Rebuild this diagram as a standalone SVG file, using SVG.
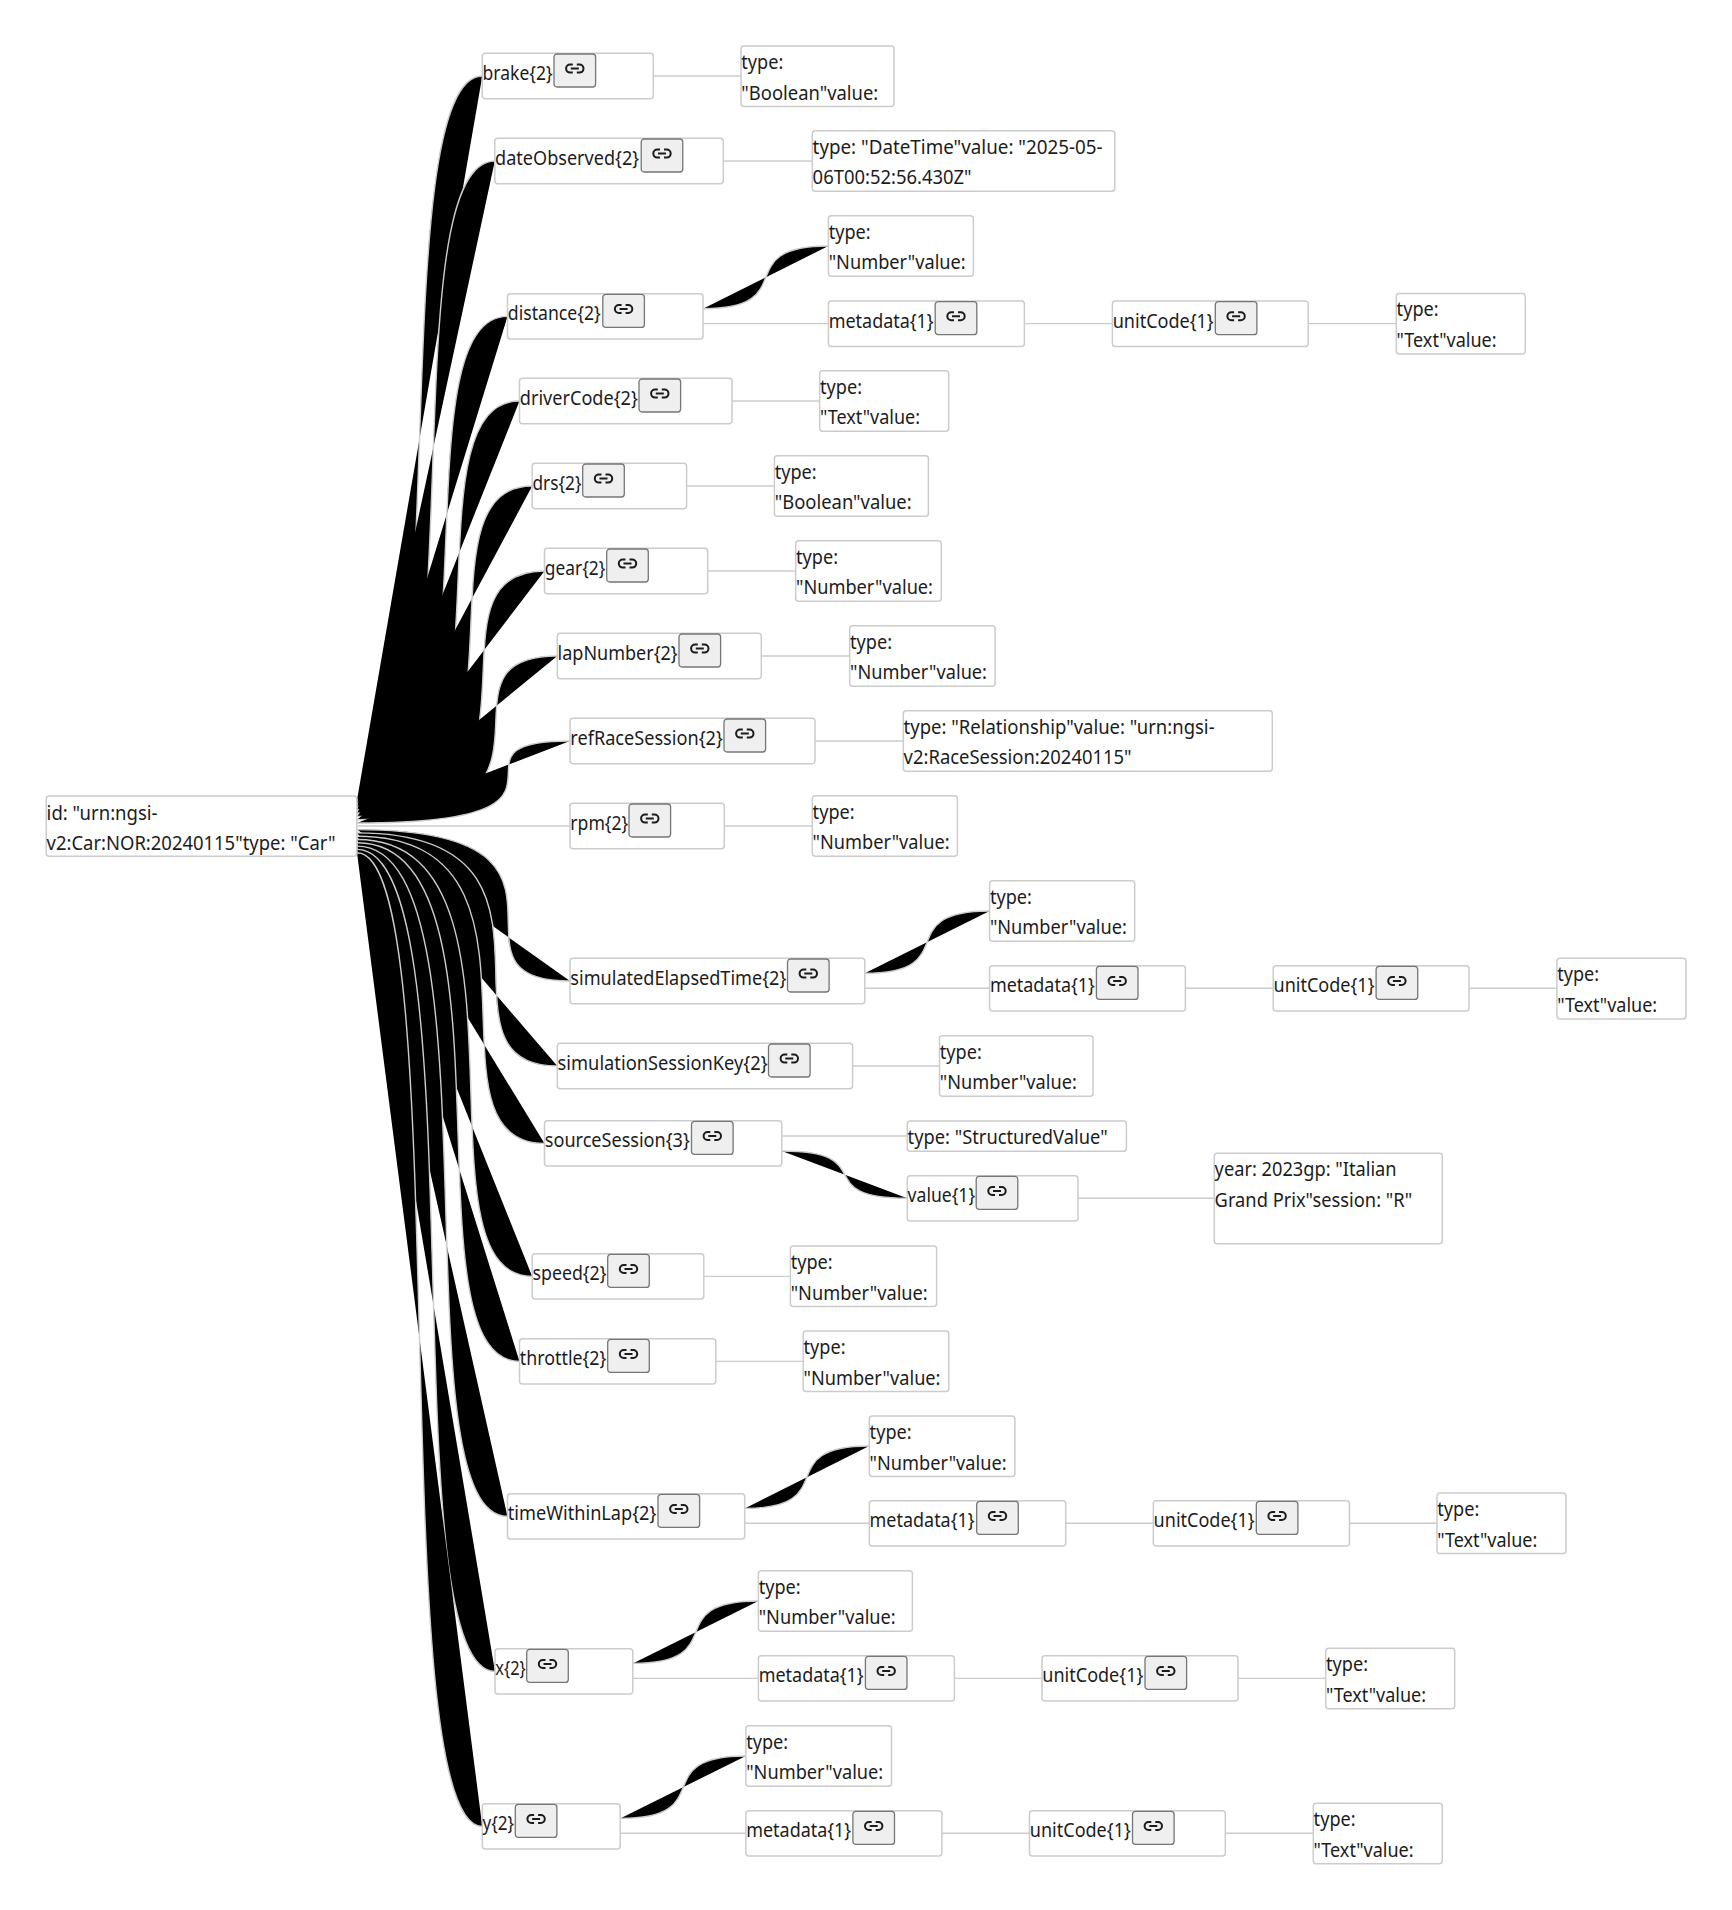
<svg xmlns="http://www.w3.org/2000/svg" xmlns:xlink="http://www.w3.org/1999/xlink" width="1732" height="1910" viewBox="0 0 1732 1910">
<style>
text{font-family:"Noto Sans","Open Sans","Liberation Sans",sans-serif;font-size:19.5px;fill:#1c1c1c}
.box{fill:#fff;stroke:#ccc;stroke-width:1.5}
.btn{fill:#efefef;stroke:#767676;stroke-width:1.3}
.ico{fill:none;stroke:#1c1c1c;stroke-width:2}
#edges path{stroke:#ccc;stroke-width:1.4;fill:#000}
</style>
<defs>
<g id="b"><rect class="btn" x="0" y="0.7" width="41.6" height="33" rx="3"/><path class="ico" d="M18.8,11.3h-2.7a4,4 0 0 0 0,8h2.7M22.8,11.3h2.7a4,4 0 0 1 0,8h-2.7M16.8,15.3h8"/></g>
</defs>
<rect width="1732" height="1910" fill="#fff"/>
<g id="edges">
<path d="M357,799.9C457,799.9 382,76 482.3,76"/>
<path d="M653.3,76L741,76"/>
<path d="M357,803.2C480,803.2 388.4,161 494.8,161"/>
<path d="M723.3,161L812.3,161"/>
<path d="M357,806.5C503.3,806.5 394.9,316.4 507.5,316.4"/>
<path d="M703,308.7C803.4,308.7 728.4,246 828.4,246"/>
<path d="M703,323.6L828.4,323.6"/>
<path d="M1024.4,323.6L1112.4,323.6"/>
<path d="M1308.2,323.6L1396.3,323.6"/>
<path d="M357,809.8C525.3,809.8 401.1,401 519.5,401"/>
<path d="M732,401L819.7,401"/>
<path d="M357,813.1C548.6,813.1 407.6,486 532.2,486"/>
<path d="M686.6,486L774.4,486"/>
<path d="M357,816.4C571.2,816.4 413.9,571 544.5,571"/>
<path d="M707.7,571L795.7,571"/>
<path d="M357,819.7C594.7,819.7 420.5,656 557.3,656"/>
<path d="M761.3,656L849.7,656"/>
<path d="M357,823C618,823 427,741 570,741"/>
<path d="M815,741L903.3,741"/>
<path d="M357,826L570,826"/>
<path d="M724.3,826L812.3,826"/>
<path d="M357,829.6C618,829.6 427,981 570,981"/>
<path d="M864.8,973.3C964.6,973.3 889.6,911 989.6,911"/>
<path d="M864.8,988.3L989.6,988.3"/>
<path d="M1185.4,988.3L1273.2,988.3"/>
<path d="M1469,988.3L1556.9,988.3"/>
<path d="M357,832.9C594.7,832.9 420.5,1066 557.3,1066"/>
<path d="M852.6,1066L939.5,1066"/>
<path d="M357,836.2C571.2,836.2 413.9,1143.4 544.5,1143.4"/>
<path d="M781.8,1136L907.3,1136"/>
<path d="M781.8,1151C882.3,1151 807.3,1198.3 907.3,1198.3"/>
<path d="M1078,1198.3L1214.3,1198.3"/>
<path d="M357,839.5C548.6,839.5 407.6,1276.4 532.2,1276.4"/>
<path d="M703.8,1276.4L790.4,1276.4"/>
<path d="M357,842.8C525.3,842.8 401.1,1361.4 519.5,1361.4"/>
<path d="M715.8,1361.4L803.2,1361.4"/>
<path d="M357,846.1C503.3,846.1 394.9,1516.4 507.5,1516.4"/>
<path d="M744.7,1508.4C844.3,1508.4 769.3,1446 869.3,1446"/>
<path d="M744.7,1523.3L869.3,1523.3"/>
<path d="M1065.7,1523.3L1153.3,1523.3"/>
<path d="M1349.5,1523.3L1437,1523.3"/>
<path d="M357,849.4C480.3,849.4 388.5,1671.4 495,1671.4"/>
<path d="M632.8,1663.4C733.4,1663.4 658.4,1601 758.4,1601"/>
<path d="M632.8,1678.4L758.4,1678.4"/>
<path d="M954.4,1678.4L1042,1678.4"/>
<path d="M1238,1678.4L1325.7,1678.4"/>
<path d="M357,852.7C457,852.7 382,1826.4 482.3,1826.4"/>
<path d="M620.2,1818.4C720.9,1818.4 645.9,1756 745.9,1756"/>
<path d="M620.2,1833.3L745.9,1833.3"/>
<path d="M941.9,1833.3L1029.5,1833.3"/>
<path d="M1225.3,1833.3L1313.3,1833.3"/>
</g>

<g id="root" transform="translate(46.3,796)"><rect class="box" width="310.5" height="60.3" rx="3"/><text x="0.3" y="23.5" textLength="111" lengthAdjust="spacingAndGlyphs">id: "urn:ngsi-</text><text x="0.3" y="53.5" textLength="289" lengthAdjust="spacingAndGlyphs">v2:Car:NOR:20240115"type: "Car"</text></g>

<g id="brake" transform="translate(482.3,53.3)"><rect class="box" width="171" height="45.4" rx="3"/><text x="0.3" y="26.7" textLength="70" lengthAdjust="spacingAndGlyphs">brake{2}</text><use xlink:href="#b" href="#b" x="71.7"/></g>
<g id="brake-v" transform="translate(741,46)"><rect class="box" width="153" height="60.6" rx="3"/><text x="0.3" y="23" textLength="42" lengthAdjust="spacingAndGlyphs">type:</text><text x="0.3" y="53.5" textLength="137" lengthAdjust="spacingAndGlyphs">"Boolean"value:</text></g>

<g id="dateObserved" transform="translate(494.8,138.3)"><rect class="box" width="228.5" height="45.4" rx="3"/><text x="0.3" y="26.7" textLength="144" lengthAdjust="spacingAndGlyphs">dateObserved{2}</text><use xlink:href="#b" href="#b" x="146.4"/></g>
<g id="dateObserved-v" transform="translate(812.3,130.7)"><rect class="box" width="302.5" height="60.6" rx="3"/><text x="0.3" y="23" textLength="290" lengthAdjust="spacingAndGlyphs">type: "DateTime"value: "2025-05-</text><text x="0.3" y="53.5" textLength="159" lengthAdjust="spacingAndGlyphs">06T00:52:56.430Z"</text></g>

<g id="distance" transform="translate(507.5,293.7)"><rect class="box" width="195.5" height="45.4" rx="3"/><text x="0.3" y="26.7" textLength="93" lengthAdjust="spacingAndGlyphs">distance{2}</text><use xlink:href="#b" href="#b" x="95.3"/></g>
<g id="distance-t" transform="translate(828.4,215.7)"><rect class="box" width="145" height="60.6" rx="3"/><text x="0.3" y="23" textLength="42" lengthAdjust="spacingAndGlyphs">type:</text><text x="0.3" y="53.5" textLength="137" lengthAdjust="spacingAndGlyphs">"Number"value:</text></g>
<g id="distance-m" transform="translate(828.4,301)"><rect class="box" width="196" height="45.4" rx="3"/><text x="0.3" y="26.7" textLength="105" lengthAdjust="spacingAndGlyphs">metadata{1}</text><use xlink:href="#b" href="#b" x="106.8"/></g>
<g id="distance-u" transform="translate(1112.4,301)"><rect class="box" width="195.8" height="45.4" rx="3"/><text x="0.3" y="26.7" textLength="101" lengthAdjust="spacingAndGlyphs">unitCode{1}</text><use xlink:href="#b" href="#b" x="102.9"/></g>
<g id="distance-v" transform="translate(1396.3,293.4)"><rect class="box" width="129" height="60.6" rx="3"/><text x="0.3" y="23" textLength="42" lengthAdjust="spacingAndGlyphs">type:</text><text x="0.3" y="53.5" textLength="100" lengthAdjust="spacingAndGlyphs">"Text"value:</text></g>

<g id="driverCode" transform="translate(519.5,378.3)"><rect class="box" width="212.5" height="45.4" rx="3"/><text x="0.3" y="26.7" textLength="118" lengthAdjust="spacingAndGlyphs">driverCode{2}</text><use xlink:href="#b" href="#b" x="119.5"/></g>
<g id="driverCode-v" transform="translate(819.7,370.7)"><rect class="box" width="129" height="60.6" rx="3"/><text x="0.3" y="23" textLength="42" lengthAdjust="spacingAndGlyphs">type:</text><text x="0.3" y="53.5" textLength="100" lengthAdjust="spacingAndGlyphs">"Text"value:</text></g>

<g id="drs" transform="translate(532.2,463.3)"><rect class="box" width="154.4" height="45.4" rx="3"/><text x="0.3" y="26.7" textLength="49" lengthAdjust="spacingAndGlyphs">drs{2}</text><use xlink:href="#b" href="#b" x="50.5"/></g>
<g id="drs-v" transform="translate(774.4,455.7)"><rect class="box" width="154" height="60.6" rx="3"/><text x="0.3" y="23" textLength="42" lengthAdjust="spacingAndGlyphs">type:</text><text x="0.3" y="53.5" textLength="137" lengthAdjust="spacingAndGlyphs">"Boolean"value:</text></g>

<g id="gear" transform="translate(544.5,548.3)"><rect class="box" width="163.2" height="45.4" rx="3"/><text x="0.3" y="26.7" textLength="60.5" lengthAdjust="spacingAndGlyphs">gear{2}</text><use xlink:href="#b" href="#b" x="62.2"/></g>
<g id="gear-v" transform="translate(795.7,540.7)"><rect class="box" width="145.6" height="60.6" rx="3"/><text x="0.3" y="23" textLength="42" lengthAdjust="spacingAndGlyphs">type:</text><text x="0.3" y="53.5" textLength="137" lengthAdjust="spacingAndGlyphs">"Number"value:</text></g>

<g id="lapNumber" transform="translate(557.3,633.3)"><rect class="box" width="204" height="45.4" rx="3"/><text x="0.3" y="26.7" textLength="120" lengthAdjust="spacingAndGlyphs">lapNumber{2}</text><use xlink:href="#b" href="#b" x="121.7"/></g>
<g id="lapNumber-v" transform="translate(849.7,625.7)"><rect class="box" width="145.4" height="60.6" rx="3"/><text x="0.3" y="23" textLength="42" lengthAdjust="spacingAndGlyphs">type:</text><text x="0.3" y="53.5" textLength="137" lengthAdjust="spacingAndGlyphs">"Number"value:</text></g>

<g id="refRaceSession" transform="translate(570,718.3)"><rect class="box" width="245" height="45.4" rx="3"/><text x="0.3" y="26.7" textLength="152.5" lengthAdjust="spacingAndGlyphs">refRaceSession{2}</text><use xlink:href="#b" href="#b" x="154"/></g>
<g id="refRaceSession-v" transform="translate(903.3,710.7)"><rect class="box" width="369" height="60.6" rx="3"/><text x="0.3" y="23" textLength="311" lengthAdjust="spacingAndGlyphs">type: "Relationship"value: "urn:ngsi-</text><text x="0.3" y="53.5" textLength="228" lengthAdjust="spacingAndGlyphs">v2:RaceSession:20240115"</text></g>

<g id="rpm" transform="translate(570,803.3)"><rect class="box" width="154.3" height="45.4" rx="3"/><text x="0.3" y="26.7" textLength="58" lengthAdjust="spacingAndGlyphs">rpm{2}</text><use xlink:href="#b" href="#b" x="59"/></g>
<g id="rpm-v" transform="translate(812.3,795.7)"><rect class="box" width="145.1" height="60.6" rx="3"/><text x="0.3" y="23" textLength="42" lengthAdjust="spacingAndGlyphs">type:</text><text x="0.3" y="53.5" textLength="137" lengthAdjust="spacingAndGlyphs">"Number"value:</text></g>

<g id="simulatedElapsedTime" transform="translate(570,958.3)"><rect class="box" width="294.8" height="45.4" rx="3"/><text x="0.3" y="26.7" textLength="216" lengthAdjust="spacingAndGlyphs">simulatedElapsedTime{2}</text><use xlink:href="#b" href="#b" x="217.5"/></g>
<g id="simulatedElapsedTime-t" transform="translate(989.6,880.7)"><rect class="box" width="145.1" height="60.6" rx="3"/><text x="0.3" y="23" textLength="42" lengthAdjust="spacingAndGlyphs">type:</text><text x="0.3" y="53.5" textLength="137" lengthAdjust="spacingAndGlyphs">"Number"value:</text></g>
<g id="simulatedElapsedTime-m" transform="translate(989.6,965.7)"><rect class="box" width="195.8" height="45.4" rx="3"/><text x="0.3" y="26.7" textLength="105" lengthAdjust="spacingAndGlyphs">metadata{1}</text><use xlink:href="#b" href="#b" x="106.8"/></g>
<g id="simulatedElapsedTime-u" transform="translate(1273.2,965.7)"><rect class="box" width="195.8" height="45.4" rx="3"/><text x="0.3" y="26.7" textLength="101" lengthAdjust="spacingAndGlyphs">unitCode{1}</text><use xlink:href="#b" href="#b" x="102.9"/></g>
<g id="simulatedElapsedTime-v" transform="translate(1556.9,958.3)"><rect class="box" width="129.1" height="60.6" rx="3"/><text x="0.3" y="23" textLength="42" lengthAdjust="spacingAndGlyphs">type:</text><text x="0.3" y="53.5" textLength="100" lengthAdjust="spacingAndGlyphs">"Text"value:</text></g>

<g id="simulationSessionKey" transform="translate(557.3,1043.3)"><rect class="box" width="295.3" height="45.4" rx="3"/><text x="0.3" y="26.7" textLength="210" lengthAdjust="spacingAndGlyphs">simulationSessionKey{2}</text><use xlink:href="#b" href="#b" x="211.2"/></g>
<g id="simulationSessionKey-v" transform="translate(939.5,1035.7)"><rect class="box" width="153.5" height="60.6" rx="3"/><text x="0.3" y="23" textLength="42" lengthAdjust="spacingAndGlyphs">type:</text><text x="0.3" y="53.5" textLength="137" lengthAdjust="spacingAndGlyphs">"Number"value:</text></g>

<g id="sourceSession" transform="translate(544.5,1120.7)"><rect class="box" width="237.3" height="45.4" rx="3"/><text x="0.3" y="26.7" textLength="145" lengthAdjust="spacingAndGlyphs">sourceSession{3}</text><use xlink:href="#b" href="#b" x="147"/></g>
<g id="sourceSession-t" transform="translate(907.3,1121)"><rect class="box" width="219.1" height="30.3" rx="3"/><text x="0.3" y="23" textLength="200" lengthAdjust="spacingAndGlyphs">type: "StructuredValue"</text></g>
<g id="sourceSession-value" transform="translate(907.3,1175.7)"><rect class="box" width="170.7" height="45.4" rx="3"/><text x="0.3" y="26.7" textLength="67.5" lengthAdjust="spacingAndGlyphs">value{1}</text><use xlink:href="#b" href="#b" x="68.9"/></g>
<g id="sourceSession-v" transform="translate(1214.3,1153.3)"><rect class="box" width="228" height="90.4" rx="3"/><text x="0.3" y="23" textLength="182" lengthAdjust="spacingAndGlyphs">year: 2023gp: "Italian</text><text x="0.3" y="53.5" textLength="197.5" lengthAdjust="spacingAndGlyphs">Grand Prix"session: "R"</text></g>

<g id="speed" transform="translate(532.2,1253.7)"><rect class="box" width="171.6" height="45.4" rx="3"/><text x="0.3" y="26.7" textLength="74" lengthAdjust="spacingAndGlyphs">speed{2}</text><use xlink:href="#b" href="#b" x="75.5"/></g>
<g id="speed-v" transform="translate(790.4,1246)"><rect class="box" width="146.2" height="60.6" rx="3"/><text x="0.3" y="23" textLength="42" lengthAdjust="spacingAndGlyphs">type:</text><text x="0.3" y="53.5" textLength="137" lengthAdjust="spacingAndGlyphs">"Number"value:</text></g>

<g id="throttle" transform="translate(519.5,1338.7)"><rect class="box" width="196.3" height="45.4" rx="3"/><text x="0.3" y="26.7" textLength="86.5" lengthAdjust="spacingAndGlyphs">throttle{2}</text><use xlink:href="#b" href="#b" x="88.2"/></g>
<g id="throttle-v" transform="translate(803.2,1331)"><rect class="box" width="145.6" height="60.6" rx="3"/><text x="0.3" y="23" textLength="42" lengthAdjust="spacingAndGlyphs">type:</text><text x="0.3" y="53.5" textLength="137" lengthAdjust="spacingAndGlyphs">"Number"value:</text></g>

<g id="timeWithinLap" transform="translate(507.5,1493.7)"><rect class="box" width="237.2" height="45.4" rx="3"/><text x="0.3" y="26.7" textLength="148.5" lengthAdjust="spacingAndGlyphs">timeWithinLap{2}</text><use xlink:href="#b" href="#b" x="150.5"/></g>
<g id="timeWithinLap-t" transform="translate(869.3,1416)"><rect class="box" width="145.6" height="60.6" rx="3"/><text x="0.3" y="23" textLength="42" lengthAdjust="spacingAndGlyphs">type:</text><text x="0.3" y="53.5" textLength="137" lengthAdjust="spacingAndGlyphs">"Number"value:</text></g>
<g id="timeWithinLap-m" transform="translate(869.3,1500.7)"><rect class="box" width="196.4" height="45.4" rx="3"/><text x="0.3" y="26.7" textLength="105" lengthAdjust="spacingAndGlyphs">metadata{1}</text><use xlink:href="#b" href="#b" x="107.4"/></g>
<g id="timeWithinLap-u" transform="translate(1153.3,1500.7)"><rect class="box" width="196.2" height="45.4" rx="3"/><text x="0.3" y="26.7" textLength="101" lengthAdjust="spacingAndGlyphs">unitCode{1}</text><use xlink:href="#b" href="#b" x="103"/></g>
<g id="timeWithinLap-v" transform="translate(1437,1493)"><rect class="box" width="129" height="60.6" rx="3"/><text x="0.3" y="23" textLength="42" lengthAdjust="spacingAndGlyphs">type:</text><text x="0.3" y="53.5" textLength="100" lengthAdjust="spacingAndGlyphs">"Text"value:</text></g>

<g id="x" transform="translate(495,1648.7)"><rect class="box" width="137.8" height="45.4" rx="3"/><text x="0.3" y="26.7" textLength="30.5" lengthAdjust="spacingAndGlyphs">x{2}</text><use xlink:href="#b" href="#b" x="31.7"/></g>
<g id="x-t" transform="translate(758.4,1570.7)"><rect class="box" width="154" height="60.6" rx="3"/><text x="0.3" y="23" textLength="42" lengthAdjust="spacingAndGlyphs">type:</text><text x="0.3" y="53.5" textLength="137" lengthAdjust="spacingAndGlyphs">"Number"value:</text></g>
<g id="x-m" transform="translate(758.4,1655.7)"><rect class="box" width="196" height="45.4" rx="3"/><text x="0.3" y="26.7" textLength="105" lengthAdjust="spacingAndGlyphs">metadata{1}</text><use xlink:href="#b" href="#b" x="107"/></g>
<g id="x-u" transform="translate(1042,1655.7)"><rect class="box" width="196" height="45.4" rx="3"/><text x="0.3" y="26.7" textLength="101" lengthAdjust="spacingAndGlyphs">unitCode{1}</text><use xlink:href="#b" href="#b" x="103"/></g>
<g id="x-v" transform="translate(1325.7,1648.3)"><rect class="box" width="129" height="60.4" rx="3"/><text x="0.3" y="23" textLength="42" lengthAdjust="spacingAndGlyphs">type:</text><text x="0.3" y="53.5" textLength="100" lengthAdjust="spacingAndGlyphs">"Text"value:</text></g>

<g id="y" transform="translate(482.3,1803.7)"><rect class="box" width="137.9" height="45.4" rx="3"/><text x="0.3" y="26.7" textLength="31.5" lengthAdjust="spacingAndGlyphs">y{2}</text><use xlink:href="#b" href="#b" x="33"/></g>
<g id="y-t" transform="translate(745.9,1725.7)"><rect class="box" width="145.6" height="60.6" rx="3"/><text x="0.3" y="23" textLength="42" lengthAdjust="spacingAndGlyphs">type:</text><text x="0.3" y="53.5" textLength="137" lengthAdjust="spacingAndGlyphs">"Number"value:</text></g>
<g id="y-m" transform="translate(745.9,1810.7)"><rect class="box" width="196" height="45.4" rx="3"/><text x="0.3" y="26.7" textLength="105" lengthAdjust="spacingAndGlyphs">metadata{1}</text><use xlink:href="#b" href="#b" x="107"/></g>
<g id="y-u" transform="translate(1029.5,1810.7)"><rect class="box" width="195.8" height="45.4" rx="3"/><text x="0.3" y="26.7" textLength="101" lengthAdjust="spacingAndGlyphs">unitCode{1}</text><use xlink:href="#b" href="#b" x="103"/></g>
<g id="y-v" transform="translate(1313.3,1803.3)"><rect class="box" width="129" height="60.4" rx="3"/><text x="0.3" y="23" textLength="42" lengthAdjust="spacingAndGlyphs">type:</text><text x="0.3" y="53.5" textLength="100" lengthAdjust="spacingAndGlyphs">"Text"value:</text></g>
</svg>
